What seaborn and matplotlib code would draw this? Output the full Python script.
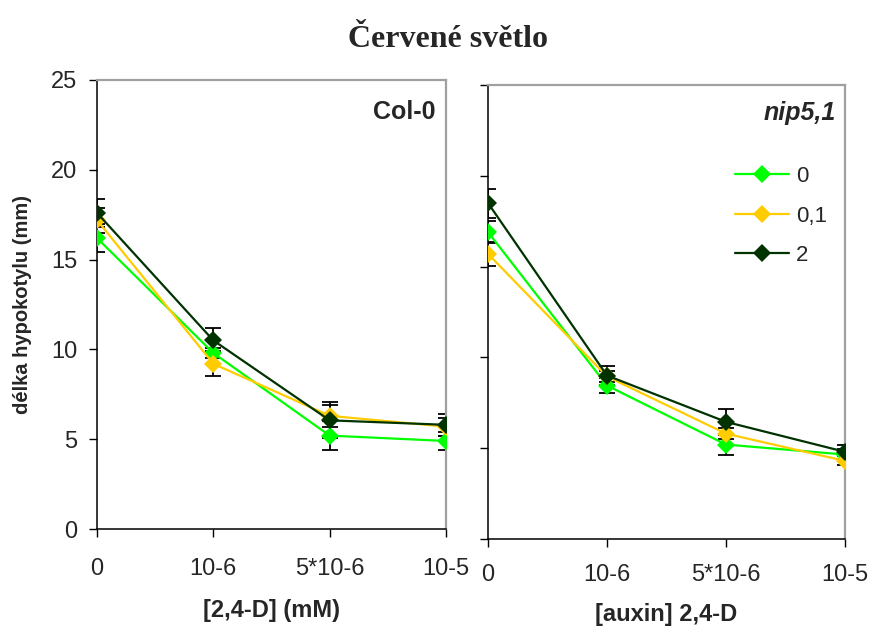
import numpy as np
import pandas as pd
import matplotlib
matplotlib.use("Agg")
import matplotlib.pyplot as plt
import seaborn as sns

# ---- data ----
categories = ["0", "10-6", "5*10-6", "10-5"]
series_names = ["0", "0,1", "2"]
series_colors = ["#00FF00", "#FFCC00", "#003300"]

col0_means = {
    "0":   [16.2, 9.8, 5.2, 4.9],
    "0,1": [17.2, 9.2, 6.3, 5.7],
    "2":   [17.6, 10.5, 6.05, 5.8],
}
col0_errs = {
    "0":   [0.8, 0.3, 0.8, 0.5],
    "0,1": [0.7, 0.7, 0.6, 0.5],
    "2":   [0.8, 0.7, 1.0, 0.6],
}
nip_means = {
    "0":   [16.9, 8.45, 5.2, 4.65],
    "0,1": [15.7, 8.95, 5.8, 4.3],
    "2":   [18.5, 9.0, 6.45, 4.8],
}
nip_errs = {
    "0":   [0.6, 0.4, 0.55, 0.3],
    "0,1": [0.65, 0.3, 0.3, 0.25],
    "2":   [0.8, 0.5, 0.7, 0.4],
}

title = "Červené světlo"
ylabel = "délka hypokotylu (mm)"
xlabel_left = "[2,4-D] (mM)"
xlabel_right = "[auxin] 2,4-D"
panel_left = "Col-0"
panel_right = "nip5,1"
yticks = [0, 5, 10, 15, 20, 25]

sns.set_theme(style="white")
plt.rcParams["font.family"] = ["Liberation Sans", "DejaVu Sans"]

W, H = 869, 628
fig = plt.figure(figsize=(W / 100, H / 100), dpi=100)


def px_axes(x0, y0, x1, y1):
    return fig.add_axes([x0 / W, 1 - y1 / H, (x1 - x0) / W, (y1 - y0) / H])


axL = px_axes(97, 80, 446, 529)
axR = px_axes(488, 85, 845, 539)


def long_df(means):
    rows = []
    for s in series_names:
        for i, c in enumerate(categories):
            rows.append({"pos": i, "value": means[s][i], "series": s})
    return pd.DataFrame(rows)


def draw(ax, means, errs, show_legend):
    df = long_df(means)
    pal = dict(zip(series_names, series_colors))
    sns.lineplot(data=df, x="pos", y="value", hue="series", style="series",
                 hue_order=series_names, style_order=series_names,
                 palette=pal, markers={s: "D" for s in series_names},
                 dashes=False, markersize=9, linewidth=1.6,
                 markeredgewidth=0, ax=ax, legend=show_legend, zorder=3)
    for s in series_names:
        ax.errorbar(range(len(categories)), means[s], yerr=errs[s], fmt="none",
                    ecolor="black", elinewidth=1.3, capsize=6, capthick=1.3,
                    zorder=2)
    ax.set_xlim(0, len(categories) - 1)
    ax.set_ylim(0, 25)
    ax.set_xticks(range(len(categories)))
    ax.set_xticklabels(categories)
    ax.set_yticks(yticks)
    ax.set_xlabel("")
    ax.set_ylabel("")
    for side in ["top", "right"]:
        ax.spines[side].set_color("#A0A0A0")
        ax.spines[side].set_linewidth(1.6)
    for side in ["left", "bottom"]:
        ax.spines[side].set_color("black")
        ax.spines[side].set_linewidth(1.1)
    ax.tick_params(axis="both", direction="out", length=6, width=1,
                   color="black", labelsize=17, bottom=True, left=True)


draw(axL, col0_means, col0_errs, False)
draw(axR, nip_means, nip_errs, True)

axL.tick_params(axis="x", pad=15)
axL.tick_params(axis="y", pad=8)
axR.tick_params(axis="x", pad=12)
axR.tick_params(axis="y", labelleft=False)

axL.set_xlabel(xlabel_left, fontsize=17, fontweight="bold")
axL.xaxis.set_label_coords(0.5, (529 - 611) / 449)
axL.xaxis.label.set_va("center")
axR.set_xlabel(xlabel_right, fontsize=17, fontweight="bold")
axR.xaxis.set_label_coords(0.5, (539 - 615) / 454)
axR.xaxis.label.set_va("center")

axL.set_ylabel(ylabel, fontsize=14.5, fontweight="bold")
axL.yaxis.set_label_coords((22 - 97) / 349, 0.5)
axL.yaxis.label.set_va("center")

axL.text(0.971, 0.929, panel_left, transform=axL.transAxes, ha="right",
         va="center", fontsize=18, fontweight="bold")
axR.text(0.975, 0.938, panel_right, transform=axR.transAxes, ha="right",
         va="center", fontsize=18, fontweight="bold", style="italic")

leg = axR.legend(loc="upper left", bbox_to_anchor=(0.692, 0.821),
                 frameon=False, fontsize=16, handlelength=2.45,
                 handletextpad=0.3, labelspacing=0.83, borderpad=0,
                 borderaxespad=0)

fig.text(448 / W, 1 - 47 / H, title, ha="center", va="baseline",
         fontsize=23, fontweight="bold", family=["Liberation Serif", "DejaVu Serif"])

fig.savefig("out.png", dpi=100)
